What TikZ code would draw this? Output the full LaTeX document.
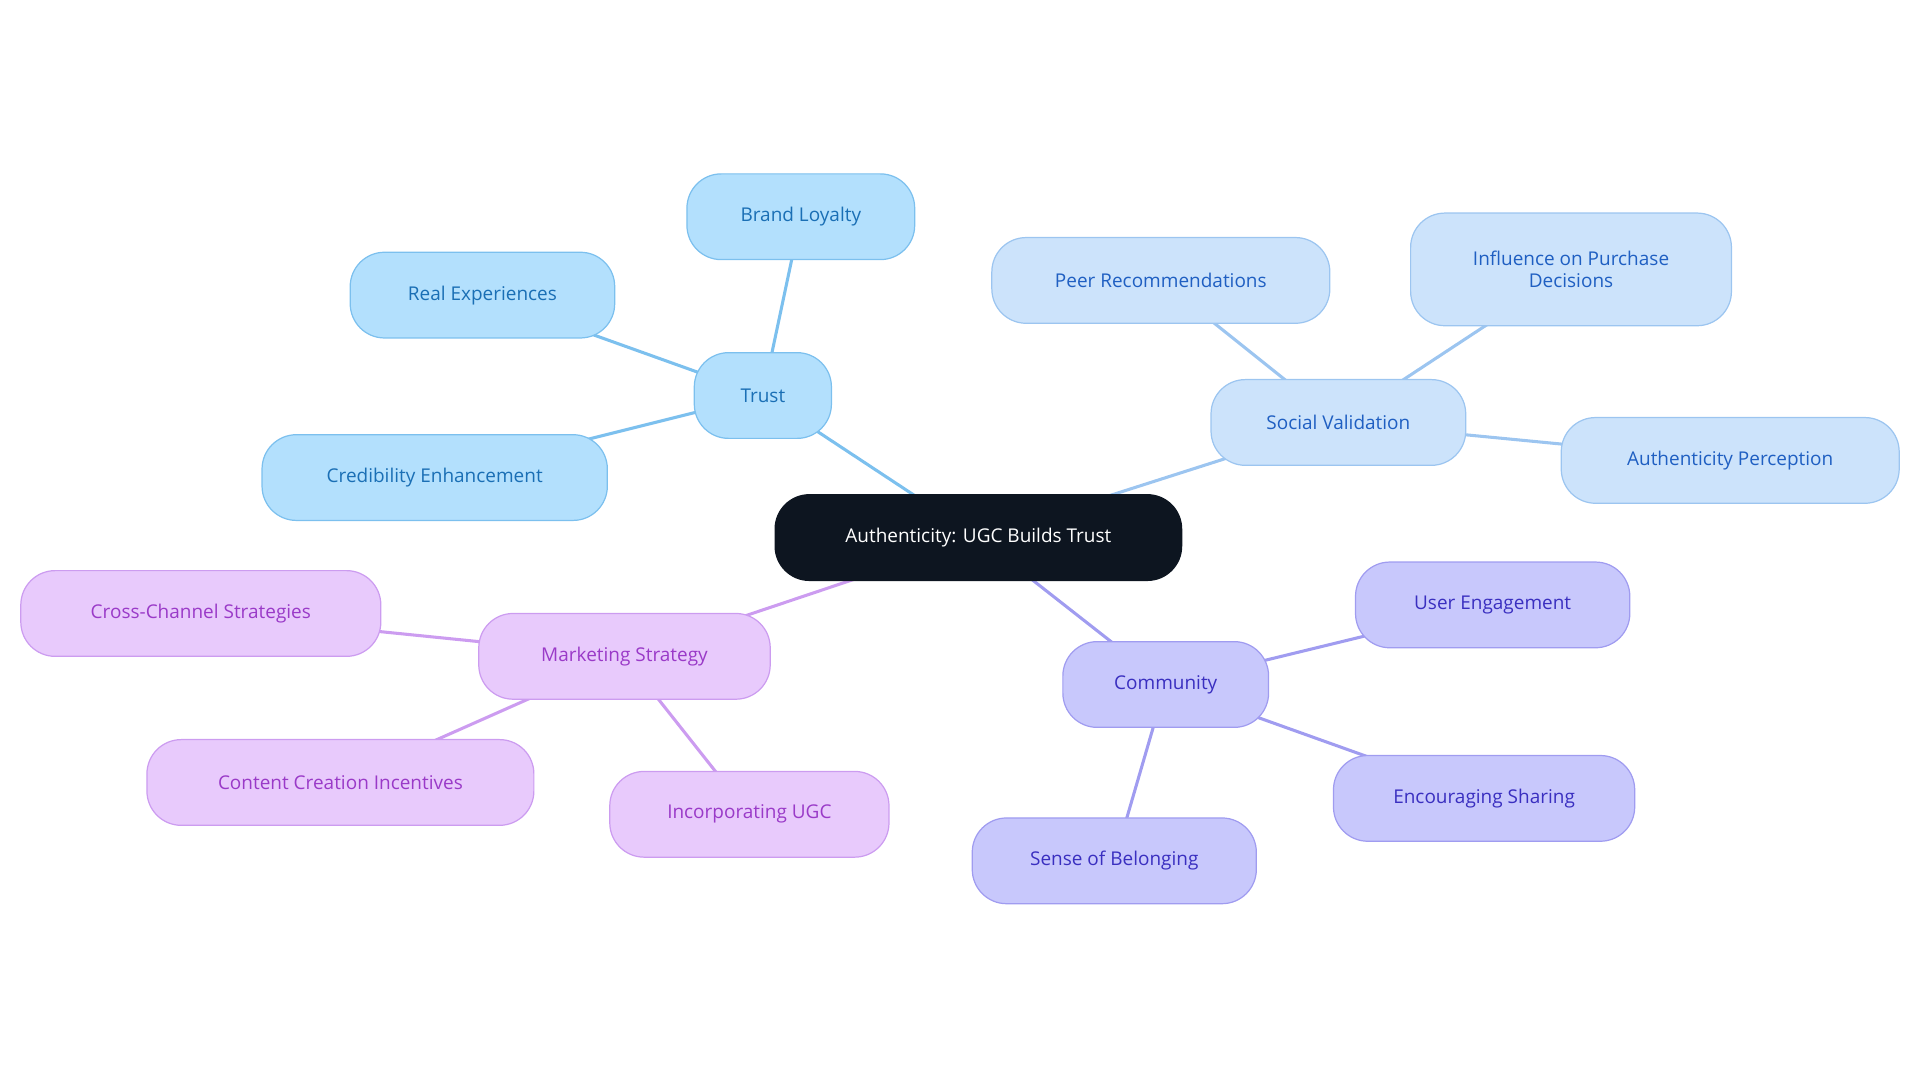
\documentclass[tikz,border=0pt]{standalone}
\usepackage{fontspec}
\setmainfont{Open Sans}
\usetikzlibrary{backgrounds}
\definecolor{tf}{HTML}{B3E0FD}\definecolor{tb}{HTML}{7CC0EE}\definecolor{tt}{HTML}{1A6FB5}
\definecolor{sf}{HTML}{CCE3FB}\definecolor{sb}{HTML}{9CC5F0}\definecolor{st}{HTML}{1F5FC2}
\definecolor{cf}{HTML}{C8C8FC}\definecolor{cb}{HTML}{A09CF0}\definecolor{ct}{HTML}{3A2FC0}
\definecolor{mf}{HTML}{E8CAFC}\definecolor{mb}{HTML}{CC9CF0}\definecolor{mt}{HTML}{9A3AC8}
\definecolor{cen}{HTML}{0D1520}
\tikzset{
 box/.style={rectangle,rounded corners=28pt,minimum height=70pt,line width=1pt,inner sep=2pt,align=center,font=\fontsize{15.5}{18}\selectfont},
 tn/.style={box,fill=tf,draw=tb,text=tt},
 sn/.style={box,fill=sf,draw=sb,text=st},
 cn/.style={box,fill=cf,draw=cb,text=ct},
 mn/.style={box,fill=mf,draw=mb,text=mt},
 ed/.style={line width=2.5pt},
}
\begin{document}
\begin{tikzpicture}[x=1pt,y=-1pt]
\useasboundingbox (0,0) rectangle (1568,884);
\node[box,fill=cen,draw=cen,text=white,minimum width=332pt] (c) at (799,439) {Authenticity: UGC Builds Trust};
\node[tn,minimum width=112pt] (t) at (623,323) {Trust};
\node[tn,minimum width=186pt] (t1) at (654,177) {Brand Loyalty};
\node[tn,minimum width=216pt] (t2) at (394,241) {Real Experiences};
\node[tn,minimum width=282pt] (t3) at (355,390) {Credibility Enhancement};
\node[sn,minimum width=208pt] (s) at (1093,345) {Social Validation};
\node[sn,minimum width=276pt] (s1) at (948,229) {Peer Recommendations};
\node[sn,minimum width=262pt,minimum height=92pt] (s2) at (1283,220) {Influence on Purchase\\Decisions};
\node[sn,minimum width=276pt] (s3) at (1413,376) {Authenticity Perception};
\node[cn,minimum width=168pt] (m) at (952,559) {Community};
\node[cn,minimum width=224pt] (m1) at (1219,494) {User Engagement};
\node[cn,minimum width=246pt] (m2) at (1212,652) {Encouraging Sharing};
\node[cn,minimum width=232pt] (m3) at (910,703) {Sense of Belonging};
\node[mn,minimum width=238pt] (k) at (510,536) {Marketing Strategy};
\node[mn,minimum width=294pt] (k1) at (164,501) {Cross-Channel Strategies};
\node[mn,minimum width=316pt] (k2) at (278,639) {Content Creation Incentives};
\node[mn,minimum width=228pt] (k3) at (612,665) {Incorporating UGC};
\begin{scope}[on background layer]
\draw[ed,tb] (c.center)--(t.center) (t.center)--(t1.center) (t.center)--(t2.center) (t.center)--(t3.center);
\draw[ed,sb] (c.center)--(s.center) (s.center)--(s1.center) (s.center)--(s2.center) (s.center)--(s3.center);
\draw[ed,cb] (c.center)--(m.center) (m.center)--(m1.center) (m.center)--(m2.center) (m.center)--(m3.center);
\draw[ed,mb] (c.center)--(k.center) (k.center)--(k1.center) (k.center)--(k2.center) (k.center)--(k3.center);
\end{scope}
\end{tikzpicture}
\end{document}
